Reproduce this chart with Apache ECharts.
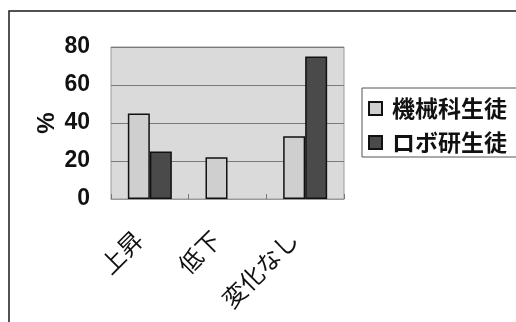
<!DOCTYPE html>
<html>
<head>
<meta charset="utf-8">
<script src="https://cdn.jsdelivr.net/npm/echarts@6/dist/echarts.min.js"></script>
<style>
  html, body { margin: 0; padding: 0; background: #fff; }
  #chart { width: 516px; height: 322px; }
</style>
</head>
<body>
<div id="chart"></div>
<script>
// 読み取った値
var categories = ['上昇', '低下', '変化なし']
var kikaiValues = [45, 22, 33]
var robokenValues = [25, 0, 75]
var seriesNames = ['機械科生徒', 'ロボ研生徒']
var yTicks = [0, 20, 40, 60, 80]

var chart = echarts.init(document.getElementById('chart'))

// 0 の棒は枠線を描かない
function toBarData(values) {
    return values.map(function (v) {
        return v === 0 ? { value: v, itemStyle: { borderWidth: 0 } } : v
    })
}

var option = {
    animation: false,
    backgroundColor: '#fff',
    graphic: [
        {
            type: 'polyline',
            shape: { points: [[9, 330], [9, 11], [530, 11]] },
            style: { stroke: '#1a1a1a', lineWidth: 1.5, fill: null }
        }
    ],
    grid: {
        left: 111,
        right: 172,
        top: 47,
        bottom: 123,
        show: true,
        backgroundColor: '#dadada',
        borderColor: '#9a9a9a',
        borderWidth: 1
    },
    legend: {
        left: 362,
        top: 88,
        orient: 'vertical',
        data: seriesNames,
        icon: 'rect',
        itemWidth: 13,
        itemHeight: 13,
        itemGap: 11,
        padding: [9, 12, 3, 6],
        borderColor: '#555',
        borderWidth: 1,
        textStyle: {
            fontFamily: 'Noto Sans CJK JP',
            fontSize: 23,
            fontWeight: 'bold',
            color: '#111',
            padding: [0, 0, 0, 5]
        }
    },
    xAxis: {
        type: 'category',
        data: categories,
        axisLine: { lineStyle: { color: '#9a9a9a', width: 1 } },
        axisTick: { show: true, inside: true, length: 5, lineStyle: { color: '#777' } },
        axisLabel: {
            rotate: 45,
            margin: 25,
            padding: [0, 16, 0, 0],
            fontFamily: 'Noto Sans CJK JP',
            fontSize: 24,
            color: '#111'
        }
    },
    yAxis: {
        type: 'value',
        min: yTicks[0],
        max: yTicks[yTicks.length - 1],
        interval: 20,
        name: '%',
        nameLocation: 'middle',
        nameRotate: 90,
        nameGap: 52,
        nameTextStyle: {
            fontFamily: 'Liberation Sans',
            fontSize: 24,
            fontWeight: 'bold',
            color: '#111'
        },
        axisLine: { show: false },
        axisTick: { show: false },
        axisLabel: {
            margin: 21,
            fontFamily: 'Liberation Sans',
            fontSize: 23,
            fontWeight: 'bold',
            color: '#111'
        },
        splitLine: { lineStyle: { color: '#7a7a7a', width: 1 } }
    },
    series: [
        {
            name: seriesNames[0],
            type: 'bar',
            data: toBarData(kikaiValues),
            barWidth: 22,
            barGap: '0%',
            itemStyle: { color: '#cfcfcf', borderColor: '#111', borderWidth: 1.5 }
        },
        {
            name: seriesNames[1],
            type: 'bar',
            data: toBarData(robokenValues),
            barWidth: 22,
            itemStyle: { color: '#4a4a4a', borderColor: '#111', borderWidth: 1.5 }
        }
    ]
}

chart.setOption(option)
</script>
</body>
</html>
